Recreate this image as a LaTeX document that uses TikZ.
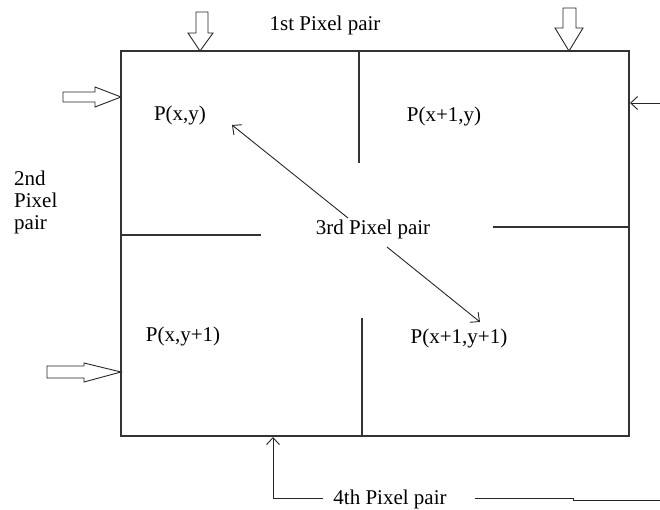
\documentclass[tikz,border=0pt]{standalone}
\usepackage{fontspec}
\setmainfont{Liberation Serif}
\usetikzlibrary{arrows.meta}
\begin{document}
\begin{tikzpicture}[x=1pt,y=-1pt,
  ln/.style={line width=1.1pt,draw=black!80},
  thin/.style={line width=0.9pt,draw=black!85},
  barb/.style={thin,-{Straight Barb[length=7pt,width=13pt]}},
  blockarrow/.style={line width=0.9pt,draw=black!85,fill=white,line join=miter},
  lbl/.style={font=\fontsize{21}{22}\selectfont,text=black,inner sep=0pt}]
\useasboundingbox (0,0) rectangle (660,510);
% box
\coordinate (tl) at (121,51);
\coordinate (br) at (629,436);
\draw[ln] (tl) rectangle (br);
% internal dividers
\coordinate (vt1) at (359,51); \coordinate (vt2) at (359,163);
\coordinate (vb1) at (362,318); \coordinate (vb2) at (362,436);
\coordinate (hl1) at (121,235); \coordinate (hl2) at (261,235);
\coordinate (hr1) at (493,227); \coordinate (hr2) at (629,227);
\draw[ln] (vt1) -- (vt2);
\draw[ln] (vb1) -- (vb2);
\draw[ln] (hl1) -- (hl2);
\draw[ln] (hr1) -- (hr2);
% labels
\node[lbl] (t1) at (325,25) {1st Pixel pair};
\node[lbl] (pxy) at (180,115) {P(x,y)};
\node[lbl] (px1y) at (444,116) {P(x+1,y)};
\node[lbl] (pxy1) at (183,336) {P(x,y+1)};
\node[lbl] (px1y1) at (459,338) {P(x+1,y+1)};
\node[lbl] (t3) at (373,229) {3rd Pixel pair};
\node[lbl,anchor=west,align=left] (t2) at (14,202) {2nd\\Pixel\\pair};
\node[lbl] (t4) at (390,499) {4th Pixel pair};
% block arrows top
\draw[blockarrow] (196,12) -- (208,12) -- (208,33) -- (213,33) -- (200,51) -- (188,33) -- (196,33) -- cycle;
\draw[blockarrow] (563,8) -- (576,8) -- (576,28) -- (583,28) -- (569,51) -- (555,28) -- (563,28) -- cycle;
% block arrows left
\draw[blockarrow] (63,92) -- (95,92) -- (95,87) -- (121,97) -- (95,107) -- (95,102) -- (63,102) -- cycle;
\draw[blockarrow] (47,366) -- (84,366) -- (84,363) -- (121,372) -- (84,382) -- (84,378) -- (47,378) -- cycle;
% right thin arrow
\coordinate (ra1) at (660,103); \coordinate (ra2) at (630,103);
\draw[barb] (ra1) -- (ra2);
% diagonal arrows
\coordinate (d1a) at (348,218); \coordinate (d1b) at (232,125);
\coordinate (d2a) at (387,247); \coordinate (d2b) at (480,322);
\draw[barb] (d1a) -- (d1b);
\draw[barb] (d2a) -- (d2b);
% bottom arrow
\coordinate (ba1) at (323,498); \coordinate (ba2) at (273,498); \coordinate (ba3) at (273,437);
\draw[barb] (ba1) -- (ba2) -- (ba3);
\coordinate (bl1) at (475,498); \coordinate (bl2) at (573,498); \coordinate (bl3) at (573,500); \coordinate (bl4) at (660,500);
\draw[thin] (bl1) -- (bl2) -- (bl3) -- (bl4);
\end{tikzpicture}
\end{document}
